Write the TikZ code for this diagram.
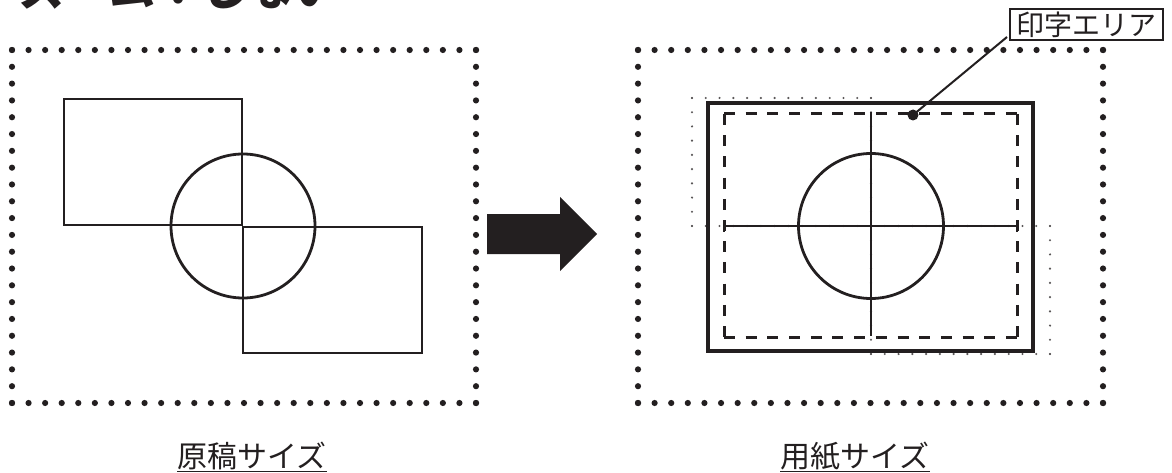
\documentclass[tikz,border=0pt]{standalone}
\usepackage{fontspec}
\newfontfamily\cjk{Noto Sans CJK JP}
\definecolor{ink}{RGB}{35,31,32}
\newcommand{\myDotRect}[7]{%
  \foreach \i in {0,...,#5}{%
    \fill[#7] ({#1+(#3-#1)*\i/#5},#2) circle[radius=#6];
    \fill[#7] ({#1+(#3-#1)*\i/#5},#4) circle[radius=#6];}%
}
\newcommand{\myDotSides}[7]{%
  \foreach \j in {0,...,#5}{%
    \fill[#7] (#1,{#2+(#4-#2)*\j/#5}) circle[radius=#6];
    \fill[#7] (#3,{#2+(#4-#2)*\j/#5}) circle[radius=#6];}%
}
\begin{document}
\begin{tikzpicture}[x=1pt,y=-1pt,
  outline/.style={draw=ink,line width=2.8pt},
  paper/.style={draw=ink,line width=3.2pt},
  area/.style={draw=ink,line width=3pt},
  bigdot/.style={fill=ink},
  smalldot/.style={fill=ink!75},
  caption/.style={font=\cjk\fontsize{30}{30}\selectfont,text=ink,inner sep=0pt,anchor=base},
]
\useasboundingbox (0,0) rectangle (1172,473);
\clip (0,0) rectangle (1172,473);

% title (cut off at top)
\node[inner sep=0pt,text=ink,font=\cjk\bfseries\fontsize{46}{46}\selectfont,anchor=base west] (title) at (19,6) {ズーム：しない};

% left dotted frame
\myDotRect{12}{50}{476}{403}{28}{3.1pt}{bigdot}
\myDotSides{12}{50}{476}{403}{21}{3.1pt}{bigdot}
% right dotted frame
\myDotRect{638}{50}{1103}{403}{28}{3.1pt}{bigdot}
\myDotSides{638}{50}{1103}{403}{21}{3.1pt}{bigdot}

% left: original document
\draw[outline] (64,99) rectangle (242,225);
\draw[outline] (243,227) rectangle (422,353);
\draw[outline] (243,226) circle[radius=72];

% arrow
\fill[ink] (487,214) -- (560,214) -- (560,197) -- (597,234) -- (560,271) -- (560,254) -- (487,254) -- cycle;

% right: shifted originals (small dots)
\myDotRect{692}{98}{871}{226}{13}{1.2pt}{smalldot}
\myDotSides{692}{98}{871}{226}{9}{1.2pt}{smalldot}
\myDotRect{871}{226}{1050}{354}{13}{1.2pt}{smalldot}
\myDotSides{871}{226}{1050}{354}{9}{1.2pt}{smalldot}

% paper
\draw[paper] (708,103) rectangle (1033,351);
% print area (dashed)
\draw[area,dash pattern=on 11pt off 10.69pt] (724,114) -- (1017,114);
\draw[area,dash pattern=on 11pt off 10.69pt] (724,337) -- (1017,337);
\draw[area,dash pattern=on 11pt off 10.2pt] (724,114) -- (724,337);
\draw[area,dash pattern=on 11pt off 10.2pt] (1017,114) -- (1017,337);
% cross and circle
\draw[outline] (724,226) -- (1017,226);
\draw[outline] (724,220) -- (724,232);
\draw[outline] (1017,220) -- (1017,232);
\draw[outline] (871,112) -- (871,336);
\draw[outline] (871,226) circle[radius=72.5];

% callout
\node[draw=ink,line width=1.5pt,minimum width=153pt,minimum height=31pt,inner sep=0pt,
      font=\cjk\fontsize{28}{28}\selectfont,text=ink] (areaLabel) at (1086.5,24.5) {印字エリア};
\coordinate (areaPt) at (913,115);
\coordinate (leadEnd) at (1007,37);
\fill[ink] (areaPt) circle[radius=5.5pt];
\draw[ink,line width=2pt] (areaPt) -- (leadEnd);

% captions
\node[caption] (origCap) at (252,467) {原稿サイズ};
\draw[ink,line width=1.6pt] ([yshift=-4.5pt]origCap.base west) -- ([yshift=-4.5pt]origCap.base east);
\node[caption] (paperCap) at (855,467) {用紙サイズ};
\draw[ink,line width=1.6pt] ([yshift=-4.5pt]paperCap.base west) -- ([yshift=-4.5pt]paperCap.base east);
\end{tikzpicture}
\end{document}
